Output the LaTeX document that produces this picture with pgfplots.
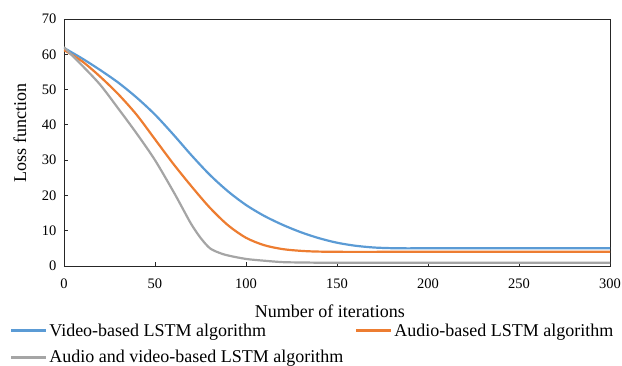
\documentclass[border=0pt]{standalone}
\usepackage{pgfplots}
\pgfplotsset{compat=1.18}
\usepackage{fontspec}
\setmainfont{Liberation Serif}
\definecolor{cblue}{HTML}{5B9BD5}
\definecolor{corange}{HTML}{ED7D31}
\definecolor{cgray}{HTML}{A5A5A5}
\begin{document}
\begin{tikzpicture}[x=1bp,y=1bp]
\begin{axis}[
  at={(0bp,0bp)}, anchor=south west,
  scale only axis, width=546bp, height=247bp,
  xmin=0, xmax=300, ymin=0, ymax=70,
  xtick={0,50,...,300}, ytick={0,10,...,70},
  xtick pos=left, ytick pos=left, tick align=inside,
  major tick length=4bp,
  axis line style={line width=0.9bp, black!85},
  every tick/.style={black!85, line width=0.8bp},
  /pgf/number format/assume math mode=true,
  tick label style={font=\fontsize{14.5bp}{16bp}\selectfont},
  xticklabel style={yshift=-9bp},
  yticklabel style={xshift=-4bp},
  xlabel={Number of iterations},
  ylabel={Loss function},
  label style={font=\fontsize{18bp}{20bp}\selectfont},
  xlabel style={at={(axis description cs:0.487,-0.182)}, anchor=center},
  ylabel style={at={(axis description cs:-0.0806,0.538)}, anchor=center},
  legend columns=2,
  legend cell align=left,
  legend style={draw=none, fill=none, at={(-0.099,-0.224)}, anchor=north west,
    font=\fontsize{18bp}{20bp}\selectfont, inner sep=0pt, row sep=9bp,
    /tikz/every even column/.append style={column sep=10bp}},
  legend image code/.code={\draw[#1] (0bp,0bp) -- (35bp,0bp);},
]
\addplot[cblue, line width=2.2bp, smooth, tension=0.5] coordinates {
(0,61.8) (10,58.8) (20,55.5) (30,51.9) (40,47.7) (50,42.9) (60,37.3) (70,31.4) (80,25.9) (90,21.2) (100,17.3) (110,14.2) (120,11.7) (130,9.6) (140,7.9) (150,6.6) (160,5.75) (170,5.25) (180,5.05) (190,5.0) (200,5.05) (250,5.05) (300,5.05)};
\addlegendentry{Video-based LSTM algorithm}
\addplot[corange, line width=2.2bp, smooth, tension=0.5] coordinates {
(0,61.2) (10,58.0) (20,53.6) (30,48.6) (40,42.8) (50,35.9) (60,29.0) (70,22.6) (80,16.6) (90,11.6) (100,8.0) (110,5.9) (120,4.8) (130,4.3) (140,4.08) (160,4.0) (200,4.05) (250,4.05) (300,4.05)};
\addlegendentry{Audio-based LSTM algorithm}
\addplot[cgray, line width=2.2bp, smooth, tension=0.5] coordinates {
(0,62) (10,56.8) (20,51.3) (30,44.5) (40,37.5) (50,30) (60,21.2) (65,16.5) (70,11.8) (75,8.0) (80,5.1) (85,3.8) (90,3.0) (100,2.0) (110,1.5) (120,1.1) (130,1.0) (150,0.9) (200,0.9) (250,0.9) (300,0.9)};
\addlegendentry{Audio and video-based LSTM algorithm}
\end{axis}
\pgfresetboundingbox
\path[use as bounding box] (-64bp,-100bp) rectangle (558bp,266bp);
\end{tikzpicture}
\end{document}
